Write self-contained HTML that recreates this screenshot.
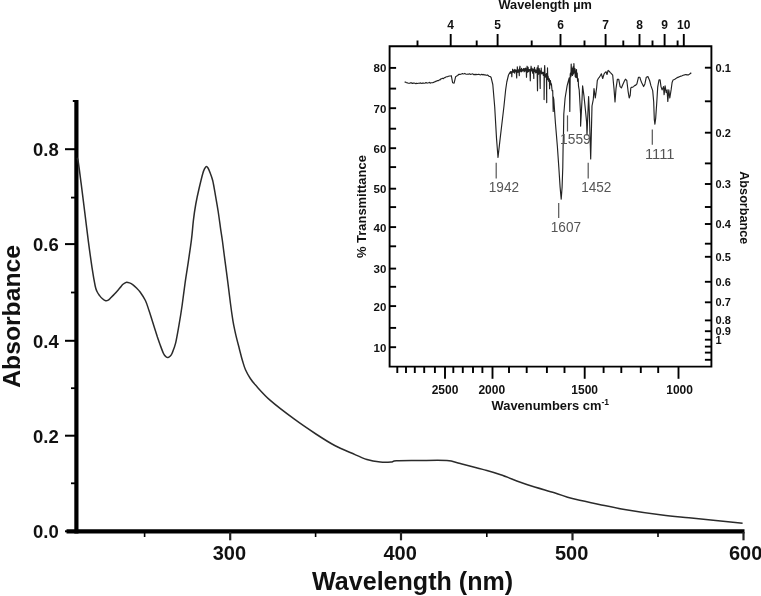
<!DOCTYPE html>
<html><head><meta charset="utf-8"><title>UV-Vis and IR spectra</title>
<style>html,body{margin:0;padding:0;background:#fff}body{width:761px;height:596px;overflow:hidden;position:relative}svg{position:absolute;left:0;top:0;display:block}text{font-family:"Liberation Sans",Arial,sans-serif}.b{font-weight:bold;fill:#111}.g{fill:#555}</style></head><body>
<svg width="761" height="596" viewBox="0 0 761 596">
<rect width="761" height="596" fill="#fff"/>
<g stroke="#000" fill="none">
<path d="M76.4 100 V533.5" stroke-width="4.2"/>
<path d="M66.5 531.4 H744.5" stroke-width="4.2"/>
<path d="M72.8 101 H76" stroke-width="2"/>
<path d="M65 149.2 H76" stroke-width="2"/>
<path d="M65 244.1 H76" stroke-width="2"/>
<path d="M65 340.8 H76" stroke-width="2"/>
<path d="M65 435.7 H76" stroke-width="2"/>
<path d="M65 531.3 H76" stroke-width="2"/>
<path d="M71 197.6 H76" stroke-width="1.8"/>
<path d="M71 292.5 H76" stroke-width="1.8"/>
<path d="M71 388.2 H76" stroke-width="1.8"/>
<path d="M71 483.3 H76" stroke-width="1.8"/>
<path d="M230.2 532 V540.3" stroke-width="2.2" stroke="#222"/>
<path d="M401.0 532 V540.3" stroke-width="2.2" stroke="#222"/>
<path d="M572.5 532 V540.3" stroke-width="2.2" stroke="#222"/>
<path d="M743.5 532 V540.3" stroke-width="2.2" stroke="#222"/>
<path d="M144.6 532 V537" stroke-width="1.6"/>
<path d="M315.6 532 V537" stroke-width="1.6"/>
<path d="M486.8 532 V537" stroke-width="1.6"/>
<path d="M658.0 532 V537" stroke-width="1.6"/>
</g>
<path d="M76.8 158.5 C77.0 158.9 77.4 156.9 78.1 161.0 C78.8 165.1 80.0 174.6 81.1 183.2 C82.2 191.8 83.6 202.8 84.8 212.7 C86.0 222.5 87.3 233.1 88.5 242.3 C89.7 251.5 91.0 260.8 92.1 268.1 C93.2 275.4 94.4 282.1 95.2 286.0 C96.0 289.9 96.3 289.9 97.0 291.5 C97.7 293.1 98.7 294.4 99.6 295.6 C100.5 296.8 101.5 297.9 102.5 298.8 C103.5 299.7 104.8 300.6 105.7 300.8 C106.7 301.0 107.4 300.7 108.2 300.2 C109.0 299.7 109.7 298.9 110.8 297.8 C111.9 296.7 113.5 295.1 115.0 293.5 C116.5 291.9 118.5 289.5 119.8 288.0 C121.1 286.5 122.0 285.2 123.0 284.3 C124.0 283.4 124.9 282.6 126.0 282.4 C127.1 282.2 128.3 282.5 129.5 282.9 C130.7 283.3 131.8 283.9 133.0 284.8 C134.2 285.7 135.3 286.8 136.5 288.0 C137.7 289.2 138.6 289.9 140.1 292.0 C141.6 294.1 143.9 297.4 145.4 300.5 C146.9 303.6 147.8 307.0 149.0 310.5 C150.2 314.0 151.1 317.1 152.5 321.5 C153.9 325.9 156.2 333.2 157.4 337.0 C158.7 340.8 159.0 341.8 160.0 344.5 C161.0 347.2 162.5 351.4 163.5 353.5 C164.5 355.6 165.2 356.1 166.0 356.8 C166.8 357.5 167.3 357.6 168.0 357.5 C168.7 357.4 169.3 357.0 170.0 356.3 C170.7 355.6 171.2 355.4 172.1 353.2 C173.0 351.0 174.5 347.8 175.6 343.2 C176.7 338.6 177.8 331.9 178.9 325.6 C180.0 319.3 181.1 312.6 182.1 305.5 C183.1 298.4 184.1 289.9 185.1 282.8 C186.1 275.7 187.1 269.8 188.2 262.7 C189.2 255.6 190.5 247.1 191.4 240.1 C192.3 233.1 192.7 226.4 193.4 220.4 C194.1 214.4 194.8 209.5 195.8 204.0 C196.8 198.5 198.1 192.6 199.3 187.5 C200.5 182.4 201.9 176.7 202.8 173.5 C203.7 170.3 204.2 169.5 204.8 168.3 C205.4 167.1 205.9 166.5 206.4 166.4 C206.9 166.3 207.4 167.0 208.0 168.0 C208.6 169.0 209.1 170.2 209.9 172.3 C210.7 174.4 211.7 176.4 212.7 180.5 C213.7 184.6 214.8 191.8 215.7 196.9 C216.6 202.0 217.3 205.9 218.1 211.0 C218.9 216.1 219.7 222.3 220.4 227.4 C221.1 232.5 221.8 236.0 222.5 241.5 C223.2 247.0 224.0 253.3 224.9 260.2 C225.8 267.1 227.0 275.7 227.9 282.8 C228.8 289.9 229.6 296.7 230.4 303.0 C231.2 309.3 232.1 315.6 232.9 320.6 C233.7 325.6 234.4 328.5 235.4 333.1 C236.4 337.7 238.0 343.6 239.2 348.2 C240.4 352.8 241.4 357.2 242.5 360.8 C243.6 364.4 244.2 366.9 245.5 369.8 C246.8 372.7 248.3 375.4 250.0 378.0 C251.7 380.6 252.1 381.4 255.5 385.1 C258.9 388.8 263.8 394.7 270.3 400.4 C276.8 406.1 286.8 413.6 294.4 419.2 C302.0 424.8 309.2 429.6 315.9 434.0 C322.6 438.4 328.9 442.4 334.7 445.5 C340.5 448.6 345.4 450.5 350.8 452.8 C356.2 455.1 362.0 457.9 366.9 459.5 C371.8 461.1 376.3 461.7 380.3 462.1 C384.3 462.5 388.3 462.3 391.0 462.1 C393.7 461.9 391.6 461.1 396.4 460.8 C401.2 460.5 411.6 460.6 420.0 460.5 C428.4 460.4 440.2 460.0 446.9 460.5 C453.6 461.0 454.3 462.1 460.3 463.6 C466.3 465.1 476.0 467.5 482.7 469.4 C489.4 471.3 493.2 472.2 500.7 474.8 C508.2 477.4 518.5 481.7 527.5 484.7 C536.5 487.7 546.9 490.4 554.4 492.7 C561.9 495.0 564.8 496.7 572.3 498.6 C579.8 500.6 590.2 502.5 599.2 504.4 C608.2 506.3 615.6 508.0 626.1 509.8 C636.6 511.6 651.5 513.8 662.0 515.1 C672.5 516.4 679.9 516.9 688.9 517.8 C697.9 518.7 706.8 519.6 715.7 520.5 C724.7 521.4 738.1 522.8 742.6 523.2" fill="none" stroke="#2b2b2b" stroke-width="1.5" stroke-linejoin="round"/>
<text class="b" x="58.7" y="156.3" font-size="18.5" text-anchor="end">0.8</text>
<text class="b" x="58.7" y="251.2" font-size="18.5" text-anchor="end">0.6</text>
<text class="b" x="58.7" y="347.9" font-size="18.5" text-anchor="end">0.4</text>
<text class="b" x="58.7" y="442.8" font-size="18.5" text-anchor="end">0.2</text>
<text class="b" x="58.7" y="538.4" font-size="18.5" text-anchor="end">0.0</text>
<text class="b" x="229.4" y="560" font-size="20" text-anchor="middle">300</text>
<text class="b" x="400.2" y="560" font-size="20" text-anchor="middle">400</text>
<text class="b" x="571.7" y="560" font-size="20" text-anchor="middle">500</text>
<text class="b" x="745.7" y="560" font-size="20" text-anchor="middle">600</text>
<text class="b" x="412.6" y="590.2" font-size="25" text-anchor="middle" textLength="201" lengthAdjust="spacingAndGlyphs">Wavelength (nm)</text>
<text class="b" transform="translate(20.2 316.4) rotate(-90)" font-size="24.5" text-anchor="middle" textLength="142.7" lengthAdjust="spacingAndGlyphs">Absorbance</text>
<g stroke="#000" fill="none" stroke-width="1.9">
<path d="M389.6 46.3 H711.4 V366.6 H389.6 Z"/>
<path d="M389.6 347.2 h6.5"/>
<path d="M389.6 327.9 h6.5"/>
<path d="M389.6 306.1 h6.5"/>
<path d="M389.6 286.8 h6.5"/>
<path d="M389.6 268.6 h6.5"/>
<path d="M389.6 246.3 h6.5"/>
<path d="M389.6 227.1 h6.5"/>
<path d="M389.6 207.1 h6.5"/>
<path d="M389.6 188.7 h6.5"/>
<path d="M389.6 167.1 h6.5"/>
<path d="M389.6 148.2 h6.5"/>
<path d="M389.6 128.7 h6.5"/>
<path d="M389.6 108.2 h6.5"/>
<path d="M389.6 88.6 h6.5"/>
<path d="M389.6 67.9 h6.5"/>
<path d="M711.4 67.7 h-6.5"/>
<path d="M711.4 101.3 h-6.5"/>
<path d="M711.4 132.7 h-6.5"/>
<path d="M711.4 163.4 h-6.5"/>
<path d="M711.4 184.0 h-6.5"/>
<path d="M711.4 207.0 h-6.5"/>
<path d="M711.4 224.0 h-6.5"/>
<path d="M711.4 243.7 h-6.5"/>
<path d="M711.4 256.8 h-6.5"/>
<path d="M711.4 281.8 h-6.5"/>
<path d="M711.4 302.3 h-6.5"/>
<path d="M711.4 320.4 h-6.5"/>
<path d="M711.4 331.2 h-6.5"/>
<path d="M711.4 339.7 h-6.5"/>
<path d="M711.4 346.6 h-6.5"/>
<path d="M711.4 352.6 h-6.5"/>
<path d="M711.4 359.8 h-6.5"/>
<path d="M450.7 46.3 V34"/>
<path d="M497.6 46.3 V34"/>
<path d="M560.5 46.3 V34"/>
<path d="M605.6 46.3 V34"/>
<path d="M639.5 46.3 V34"/>
<path d="M664.6 46.3 V34"/>
<path d="M683.8 46.3 V34"/>
<path d="M417.5 46.3 V40.5"/>
<path d="M476.7 46.3 V40.5"/>
<path d="M531.7 46.3 V40.5"/>
<path d="M584.5 46.3 V40.5"/>
<path d="M623.3 46.3 V40.5"/>
<path d="M652.5 46.3 V40.5"/>
<path d="M677.6 46.3 V40.5"/>
<path d="M445.0 366.6 V378.8"/>
<path d="M492.5 366.6 V378.8"/>
<path d="M584.7 366.6 V378.8"/>
<path d="M678.5 366.6 V378.8"/>
<path d="M397.3 366.6 V373"/>
<path d="M406.0 366.6 V373"/>
<path d="M414.8 366.6 V373"/>
<path d="M424.2 366.6 V373"/>
<path d="M434.9 366.6 V373"/>
<path d="M453.3 366.6 V373"/>
<path d="M462.8 366.6 V373"/>
<path d="M473.0 366.6 V373"/>
<path d="M482.4 366.6 V373"/>
<path d="M509.0 366.6 V373"/>
<path d="M526.7 366.6 V373"/>
<path d="M546.9 366.6 V373"/>
<path d="M564.5 366.6 V373"/>
<path d="M603.6 366.6 V373"/>
<path d="M621.3 366.6 V373"/>
<path d="M640.8 366.6 V373"/>
<path d="M658.2 366.6 V373"/>
</g>
<path d="M404.6 82.1 L405.4 82.1 L406.2 82.6 L407.1 82.7 L407.9 83.1 L408.8 83.2 L409.7 83.3 L410.6 82.8 L411.4 82.8 L412.3 83.5 L413.2 83.1 L414.1 83.1 L415.0 83.3 L415.9 83.7 L416.7 83.2 L417.6 83.5 L418.4 83.2 L419.3 83.3 L420.1 82.9 L421.0 83.3 L421.8 83.4 L422.7 83.1 L423.5 83.1 L424.4 83.2 L425.2 83.1 L426.0 82.6 L426.9 83.1 L427.7 83.0 L428.6 82.7 L429.4 82.4 L430.2 83.1 L431.1 82.7 L431.9 82.7 L432.7 82.6 L433.5 82.4 L434.4 81.9 L435.2 81.8 L436.0 81.1 L436.8 81.1 L437.7 80.5 L438.5 80.6 L439.3 79.9 L440.1 79.9 L440.9 78.9 L441.8 78.6 L442.6 78.3 L443.4 78.6 L444.2 77.8 L445.1 77.6 L445.9 77.0 L446.7 76.8 L447.6 76.6 L448.5 76.3 L449.5 76.0 L450.4 76.0 L451.3 75.7 L452.6 82.7 L454.1 83.1 L455.6 76.8 L456.6 76.1 L457.7 75.5 L458.7 74.4 L459.6 74.3 L460.5 74.3 L461.5 74.0 L462.4 73.5 L463.2 74.0 L464.0 73.8 L464.8 73.4 L465.6 74.0 L466.4 74.2 L467.2 74.2 L468.0 74.0 L468.8 74.2 L469.6 73.8 L470.4 74.4 L471.2 74.2 L472.0 74.0 L472.8 73.9 L473.6 74.6 L474.4 74.4 L475.2 74.8 L476.0 74.1 L476.8 74.7 L477.6 74.5 L478.4 74.3 L479.2 74.4 L480.0 74.8 L480.9 74.9 L481.7 74.3 L482.5 74.8 L483.3 74.4 L484.1 74.9 L484.9 74.7 L485.7 75.1 L486.5 75.3 L487.3 74.9 L488.2 75.5 L489.1 76.4 L490.1 76.5 L491.0 77.2 L492.8 84.5 L494.7 106.7 L496.5 138.1 L498.0 157.5 L500.2 138.1 L503.9 106.7 L505.6 90.2 L506.8 82.0 L508.5 75.0 L509.7 72.9 L510.0 73.3 L510.4 71.6 L510.7 73.2 L511.1 71.9 L511.6 72.1 L511.8 76.7 L512.1 71.4 L512.5 72.3 L512.6 69.2 L513.1 71.2 L513.5 72.3 L514.1 70.0 L514.6 73.2 L514.9 69.4 L515.3 71.7 L515.7 70.2 L516.3 71.6 L516.7 77.9 L516.9 69.5 L517.3 72.1 L517.3 66.7 L517.6 70.4 L518.0 72.3 L518.5 69.9 L519.0 71.8 L519.3 75.6 L519.4 69.0 L520.0 66.2 L520.0 71.3 L520.5 69.3 L521.2 72.0 L521.6 68.4 L522.0 71.4 L522.5 69.7 L523.0 70.6 L523.6 68.5 L524.1 71.8 L524.6 68.5 L525.1 71.2 L525.6 68.1 L526.3 70.9 L526.5 77.3 L526.8 69.5 L527.1 66.2 L527.4 72.3 L528.1 67.2 L528.5 71.6 L529.1 69.6 L529.6 71.1 L529.9 69.5 L530.3 80.8 L530.5 71.1 L530.9 68.7 L531.1 66.2 L531.6 71.0 L532.1 68.3 L532.7 73.2 L533.4 69.2 L533.8 78.5 L533.8 72.0 L534.5 67.4 L534.8 71.6 L535.2 69.5 L535.7 72.9 L536.1 70.3 L536.6 72.5 L537.1 67.9 L537.5 90.8 L537.7 73.1 L538.1 65.6 L538.2 68.9 L538.6 74.3 L539.2 68.5 L539.8 73.2 L540.2 88.5 L540.3 70.9 L540.8 72.6 L541.1 71.1 L541.2 68.0 L541.5 73.8 L541.8 72.0 L542.2 73.4 L542.6 72.3 L543.3 75.5 L543.6 72.4 L544.1 75.6 L544.1 99.6 L544.4 71.6 L544.7 65.6 L545.1 76.9 L545.6 74.9 L546.0 77.4 L546.4 73.5 L546.7 102.6 L546.7 77.2 L547.4 75.3 L547.5 67.9 L547.8 79.7 L548.1 76.0 L548.8 81.5 L549.4 78.8 L549.6 88.7 L549.8 80.9 L550.4 80.6 L551.0 84.9 L551.4 83.9 L552.1 90.7 L552.7 90.5 L553.2 111.4 L553.3 96.8 L553.8 99.5 L554.1 104.1 L555.4 122.7 L557.4 146.8 L558.8 167.0 L560.1 187.1 L561.2 199.2 L562.1 187.1 L562.8 167.0 L563.1 146.8 L563.5 133.4 L563.8 114.0 L565.1 98.0 L567.1 85.9 L569.2 77.8 L569.6 95.0 L569.8 111.4 L570.0 95.0 L570.2 75.0 L570.4 73.2 L570.9 76.8 L571.2 64.0 L571.3 66.6 L571.9 74.8 L572.4 68.4 L572.5 75.5 L572.7 71.6 L573.1 66.9 L573.6 73.9 L573.9 63.5 L574.1 67.2 L574.6 72.9 L575.1 68.7 L575.2 76.5 L575.7 77.3 L576.1 72.9 L576.5 69.5 L576.6 77.6 L577.2 73.0 L577.6 81.3 L577.9 80.5 L578.2 78.7 L578.5 86.2 L579.2 89.9 L580.6 114.1 L580.6 126.1 L581.9 102.0 L582.6 85.9 L583.9 95.3 L585.3 108.7 L586.6 122.1 L587.0 135.0 L588.6 96.6 L589.3 111.4 L590.7 158.9 L591.3 135.0 L592.0 106.0 L593.3 99.3 L594.0 88.6 L595.3 98.0 L596.7 87.2 L597.3 80.5 L598.3 78.5 L599.4 77.1 L600.4 75.5 L601.4 73.8 L602.7 78.5 L604.1 73.8 L605.1 72.5 L606.1 71.8 L607.0 74.5 L608.1 70.4 L609.1 71.2 L610.1 72.4 L611.4 73.7 L612.7 75.2 L614.0 88.6 L615.0 102.0 L616.0 88.6 L617.4 79.2 L618.7 79.2 L620.1 86.6 L621.4 87.9 L622.4 85.6 L623.4 83.2 L624.4 81.0 L625.4 79.2 L626.8 80.5 L628.1 91.3 L629.2 98.0 L630.2 95.3 L630.8 87.9 L631.7 87.2 L632.6 87.3 L633.5 86.6 L634.6 85.6 L635.8 85.1 L636.9 83.9 L638.5 77.2 L639.8 77.2 L640.7 80.1 L641.6 82.5 L642.6 84.5 L643.6 86.6 L644.9 83.9 L646.3 77.2 L647.9 76.5 L649.6 80.5 L651.0 85.9 L652.7 90.6 L653.7 102.0 L654.3 119.5 L654.9 124.2 L655.7 118.1 L656.8 102.0 L657.7 87.2 L659.0 79.9 L660.1 79.9 L661.0 86.6 L662.1 89.9 L663.5 86.6 L664.1 94.6 L665.1 85.9 L666.2 92.6 L667.1 89.9 L667.8 101.4 L668.8 89.9 L669.8 98.0 L671.1 89.9 L672.1 82.5 L673.1 79.9 L674.2 79.4 L675.2 78.9 L676.2 78.3 L677.2 77.6 L678.5 77.1 L679.9 76.5 L681.0 76.1 L682.1 75.7 L683.2 75.2 L684.5 74.9 L685.9 74.5 L686.8 74.9 L687.7 74.8 L688.6 74.9 L690.0 73.8 L691.3 72.7" fill="none" stroke="#222" stroke-width="1.15" stroke-linejoin="round"/>
<g stroke="#555" stroke-width="1.2">
<path d="M496.2 162.7 V178.4"/>
<path d="M558.7 203.1 V217.9"/>
<path d="M567.5 115.4 V131.5"/>
<path d="M588.2 162.7 V178.4"/>
<path d="M652.3 129.4 V144.7"/>
</g>
<text class="g" x="503.9" y="191.8" font-size="14" text-anchor="middle" textLength="30.2" lengthAdjust="spacingAndGlyphs">1942</text>
<text class="g" x="565.9" y="232.2" font-size="14" text-anchor="middle" textLength="30.2" lengthAdjust="spacingAndGlyphs">1607</text>
<text class="g" x="575.4" y="144.0" font-size="14" text-anchor="middle" textLength="30.6" lengthAdjust="spacingAndGlyphs">1559</text>
<text class="g" x="596.3" y="191.8" font-size="14" text-anchor="middle" textLength="30.2" lengthAdjust="spacingAndGlyphs">1452</text>
<text class="g" x="659.7" y="158.8" font-size="14" text-anchor="middle" textLength="29.6" lengthAdjust="spacingAndGlyphs">1111</text>
<text class="b" x="386.3" y="351.6" font-size="11.5" text-anchor="end">10</text>
<text class="b" x="386.3" y="310.5" font-size="11.5" text-anchor="end">20</text>
<text class="b" x="386.3" y="273.0" font-size="11.5" text-anchor="end">30</text>
<text class="b" x="386.3" y="231.5" font-size="11.5" text-anchor="end">40</text>
<text class="b" x="386.3" y="193.1" font-size="11.5" text-anchor="end">50</text>
<text class="b" x="386.3" y="152.6" font-size="11.5" text-anchor="end">60</text>
<text class="b" x="386.3" y="112.6" font-size="11.5" text-anchor="end">70</text>
<text class="b" x="386.3" y="72.3" font-size="11.5" text-anchor="end">80</text>
<text class="b" x="715.6" y="71.7" font-size="11" >0.1</text>
<text class="b" x="715.6" y="136.7" font-size="11" >0.2</text>
<text class="b" x="715.6" y="188.0" font-size="11" >0.3</text>
<text class="b" x="715.6" y="228.0" font-size="11" >0.4</text>
<text class="b" x="715.6" y="260.8" font-size="11" >0.5</text>
<text class="b" x="715.6" y="285.8" font-size="11" >0.6</text>
<text class="b" x="715.6" y="306.3" font-size="11" >0.7</text>
<text class="b" x="715.6" y="324.4" font-size="11" >0.8</text>
<text class="b" x="715.6" y="335.2" font-size="11" >0.9</text>
<text class="b" x="715.6" y="343.7" font-size="11">1</text>
<text class="b" x="450.7" y="29.2" font-size="12" text-anchor="middle">4</text>
<text class="b" x="497.6" y="29.2" font-size="12" text-anchor="middle">5</text>
<text class="b" x="560.5" y="29.2" font-size="12" text-anchor="middle">6</text>
<text class="b" x="605.6" y="29.2" font-size="12" text-anchor="middle">7</text>
<text class="b" x="639.5" y="29.2" font-size="12" text-anchor="middle">8</text>
<text class="b" x="664.6" y="29.2" font-size="12" text-anchor="middle">9</text>
<text class="b" x="683.8" y="29.2" font-size="12" text-anchor="middle">10</text>
<text class="b" x="445.0" y="393.8" font-size="12" text-anchor="middle">2500</text>
<text class="b" x="491.8" y="393.8" font-size="12" text-anchor="middle">2000</text>
<text class="b" x="584.7" y="393.8" font-size="12" text-anchor="middle">1500</text>
<text class="b" x="679.6" y="393.8" font-size="12" text-anchor="middle">1000</text>
<text class="b" x="545.2" y="9.3" font-size="13" text-anchor="middle" textLength="93.4" lengthAdjust="spacingAndGlyphs">Wavelength µm</text>
<text class="b" x="491.6" y="410" font-size="12.9">Wavenumbers cm<tspan font-size="8.5" dy="-4.8">-1</tspan></text>
<text class="b" transform="translate(365.7 206.6) rotate(-90)" font-size="13" text-anchor="middle" textLength="103" lengthAdjust="spacingAndGlyphs">% Transmittance</text>
<text class="b" transform="translate(740.2 207.8) rotate(90)" font-size="13" text-anchor="middle" textLength="73.2" lengthAdjust="spacingAndGlyphs">Absorbance</text>
</svg></body></html>
